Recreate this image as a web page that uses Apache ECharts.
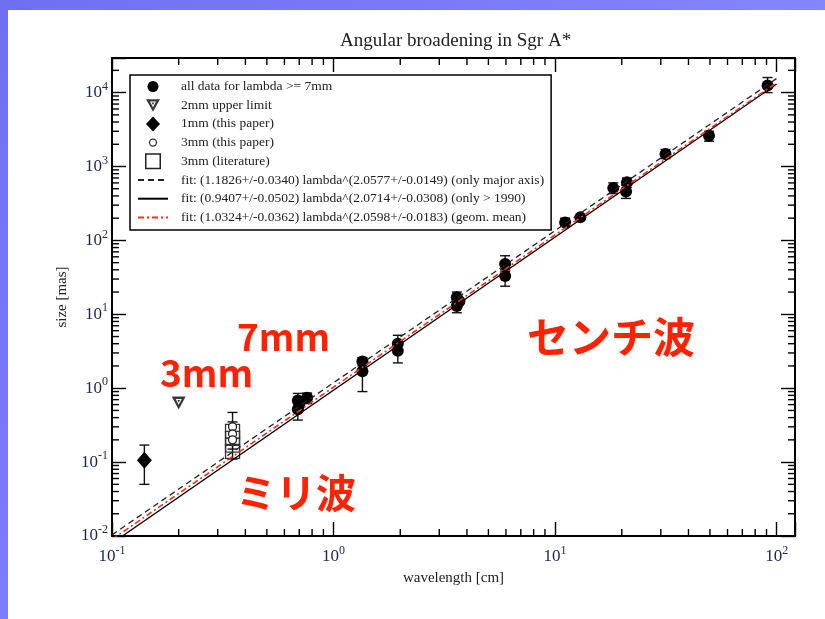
<!DOCTYPE html>
<html><head><meta charset="utf-8">
<script src="https://cdn.jsdelivr.net/npm/echarts@6/dist/echarts.min.js"></script>
<style>html,body{margin:0;padding:0;background:#fff}#c{width:825px;height:619px}</style>
</head><body><div id="c"></div>
<script>
// ---- data ----
const allX = [0.69, 0.69, 0.70, 0.76, 1.35, 1.35, 1.95, 1.95, 3.6, 3.6, 3.7, 5.95, 5.95, 11.1, 13.0, 18.3, 20.9, 21.1, 31.5, 49.5, 91];
const allY = [0.68, 0.52, 0.60, 0.74, 2.3, 1.7, 4.0, 3.2, 17, 13, 15, 48, 33, 175, 205, 510, 460, 610, 1480, 2600, 12500];
const upper2mmX = [0.2];
const upper2mmY = [0.63];
const mm1X = [0.14];
const mm1Y = [0.106];
const mm3ThisX = [0.35, 0.35, 0.35];
const mm3ThisY = [0.30, 0.24, 0.20];
const mm3LitX = [0.35, 0.35, 0.35, 0.35];
const mm3LitY = [0.26, 0.21, 0.17, 0.14];
const errX  = [0.14, 0.35, 0.35, 0.69, 0.76, 1.35, 1.35, 1.95, 1.95, 3.6, 3.6, 5.95, 5.95, 11.1, 18.3, 20.9, 21.1, 31.5, 49.5, 91];
const errLo = [0.05, 0.11, 0.15, 0.37, 0.62, 2.0, 0.9, 3.3, 2.2, 14.5, 10.5, 38, 24, 155, 430, 370, 520, 1280, 2200, 10000];
const errHi = [0.17, 0.47, 0.35, 0.85, 0.86, 2.6, 2.4, 5.2, 4.2, 20, 15.5, 62, 40, 200, 600, 560, 700, 1700, 3000, 16000];
const fitX = [0.1, 100];
const fitMajorY = [0.01036, 15530];
const fitRecentY = [0.00798, 13070];
const fitGeomY = [0.008995, 13600];
const xMinorTicks = [0.2,0.3,0.4,0.5,0.6,0.7,0.8,0.9, 2,3,4,5,6,7,8,9, 20,30,40,50,60,70,80,90];
const yMinorTicks = [0.02,0.03,0.04,0.05,0.06,0.07,0.08,0.09, 0.2,0.3,0.4,0.5,0.6,0.7,0.8,0.9,
  2,3,4,5,6,7,8,9, 20,30,40,50,60,70,80,90, 200,300,400,500,600,700,800,900,
  2000,3000,4000,5000,6000,7000,8000,9000, 20000];
const names = ['all data for lambda >= 7mm', '2mm upper limit', '1mm (this paper)', '3mm (this paper)', '3mm (literature)',
  'fit: (1.1826+/-0.0340) lambda^(2.0577+/-0.0149) (only major axis)',
  'fit: (0.9407+/-0.0502) lambda^(2.0714+/-0.0308) (only > 1990)',
  'fit: (1.0324+/-0.0362) lambda^(2.0598+/-0.0183) (geom. mean)'];

const SERIF = '"Liberation Serif", "DejaVu Serif", serif';
const JP = '"Noto Sans CJK JP", "Liberation Sans", sans-serif';
const zip = (a, b) => a.map((v, i) => [v, b[i]]);
const pow10 = v => { const e = Math.log10(v); const r = Math.round(e); return Math.abs(e - r) < 1e-6 ? r : null; };
const fmt = v => { const r = pow10(v); return r === null ? '' : '{b|10}{s|' + r + '}'; };
const rich = {
  b: { fontFamily: SERIF, fontSize: 17, color: '#1c2450', lineHeight: 24 },
  s: { fontFamily: SERIF, fontSize: 12, color: '#1c2450', lineHeight: 12, verticalAlign: 'top' }
};
const axisCommon = {
  type: 'log', logBase: 10,
  axisLine: { lineStyle: { color: '#000', width: 2 } },
  axisTick: { inside: true, length: 14, lineStyle: { color: '#000', width: 1.4 } },
  splitLine: { show: false }, minorTick: { show: false }
};
const tickStyle = { stroke: '#000', lineWidth: 1.4 };
// plot symbol for the 2mm upper limit (inverted triangle, lighter inside, small dark core)
const triPath = 'path://M0 0 L14 0 L7 13 Z M4 2.4 L7 8.2 L10 2.4 Z M5.6 3.4 L8.4 3.4 L7 6 Z';
// legend icons, drawn in a 17x17 box (the leading moves fix the box size)
const BOX = 'M0 0 M17 17 ';
const legIcons = {
  circle: 'path://' + BOX + 'M3 8.5 A5.5 5.5 0 1 1 14 8.5 A5.5 5.5 0 1 1 3 8.5 Z',
  tri: 'path://' + BOX + 'M1.5 2.5 L15.5 2.5 L8.5 15 Z M5.5 4.8 L8.5 10.6 L11.5 4.8 Z M7.1 5.8 L9.9 5.8 L8.5 8.4 Z',
  diamond: 'path://' + BOX + 'M8.5 1 L15.5 8.5 L8.5 16 L1.5 8.5 Z',
  ring: 'path://' + BOX + 'M4.3 8.5 A4.2 4.2 0 1 1 12.7 8.5 A4.2 4.2 0 1 1 4.3 8.5 Z M5.6 8.5 A2.9 2.9 0 1 0 11.4 8.5 A2.9 2.9 0 1 0 5.6 8.5 Z',
  square: 'path://' + BOX + 'M0.5 0.5 L16.5 0.5 L16.5 16.5 L0.5 16.5 Z M2 2 L2 15 L15 15 L15 2 Z'
};
const hideSym = { opacity: 0 };

const chart = echarts.init(document.getElementById('c'), null, { renderer: 'canvas' });
chart.setOption({
  animation: false,
  backgroundColor: '#fff',
  title: { text: 'Angular broadening in Sgr A*', left: 335, top: 27,
    textStyle: { fontFamily: SERIF, fontSize: 19, fontWeight: 'normal', color: '#222' } },
  grid: { left: 112, right: 30, top: 58, bottom: 83 },
  xAxis: [
    Object.assign({}, axisCommon, { position: 'bottom', min: 0.1, max: 121,
      axisLabel: { formatter: fmt, rich: rich, margin: 9 },
      name: 'wavelength [cm]', nameLocation: 'middle', nameGap: 34,
      nameTextStyle: { fontFamily: SERIF, fontSize: 15, color: '#222' } }),
    Object.assign({}, axisCommon, { position: 'top', min: 0.1, max: 121, axisLabel: { show: false } })
  ],
  yAxis: [
    Object.assign({}, axisCommon, { position: 'left', min: 0.01, max: 29400,
      axisLabel: { formatter: fmt, rich: rich, margin: 4 },
      name: 'size [mas]', nameLocation: 'middle', nameGap: 42,
      nameTextStyle: { fontFamily: SERIF, fontSize: 15, color: '#222' } }),
    Object.assign({}, axisCommon, { position: 'right', min: 0.01, max: 29400, axisLabel: { show: false } })
  ],
  legend: {
    data: [
      { name: names[0], icon: legIcons.circle, itemStyle: { color: '#000', borderWidth: 0 } },
      { name: names[1], icon: legIcons.tri, itemStyle: { color: '#3a3a3a', borderWidth: 0 } },
      { name: names[2], icon: legIcons.diamond, itemStyle: { color: '#000', borderWidth: 0 } },
      { name: names[3], icon: legIcons.ring, itemStyle: { color: '#333', borderWidth: 0 } },
      { name: names[4], icon: legIcons.square, itemStyle: { color: '#222', borderWidth: 0 } },
      { name: names[5], itemStyle: hideSym },
      { name: names[6], itemStyle: hideSym },
      { name: names[7], itemStyle: hideSym }
    ],
    orient: 'vertical', left: 130, top: 75,
    padding: [3, 7, 4, 7], itemGap: 1.7, itemWidth: 30, itemHeight: 17,
    backgroundColor: '#fff', borderColor: '#000', borderWidth: 1.5, borderRadius: 0,
    textStyle: { fontFamily: SERIF, fontSize: 13.5, color: '#222', lineHeight: 17, padding: [0, 0, 0, 8] },
    selectedMode: false
  },
  graphic: [
    { type: 'rect', shape: { x: 0, y: 0, width: 825, height: 10 }, style: { fill: new echarts.graphic.LinearGradient(0, 0, 1, 0, [{ offset: 0, color: '#6f6ff2' }, { offset: 1, color: '#8585ff' }]) }, z: 100 },
    { type: 'rect', shape: { x: 0, y: 0, width: 8, height: 619 }, style: { fill: new echarts.graphic.LinearGradient(0, 0, 0, 1, [{ offset: 0, color: '#6f6ff2' }, { offset: 1, color: '#7d7dfa' }]) }, z: 100 },
    { type: 'text', left: 160, top: 354, z: 100, style: { text: '3mm', fontFamily: JP, fontWeight: 'bold', fontSize: 37, fill: '#ff2200' } },
    { type: 'text', left: 237, top: 318, z: 100, style: { text: '7mm', fontFamily: JP, fontWeight: 'bold', fontSize: 37, fill: '#ff2200' } },
    { type: 'text', left: 527, top: 316, z: 100, style: { text: 'センチ波', fontFamily: JP, fontWeight: 'bold', fontSize: 42, fill: '#ff2200' } },
    { type: 'text', left: 236, top: 473, z: 100, style: { text: 'ミリ波', fontFamily: JP, fontWeight: 'bold', fontSize: 40, fill: '#ff2200' } }
  ],
  series: [
    { type: 'custom', name: 'xminor', silent: true, z: 1,
      data: xMinorTicks.map(v => [v, 1]),
      renderItem: (params, api) => {
        const cs = params.coordSys; const p = api.coord([api.value(0), 1]);
        return { type: 'group', children: [
          { type: 'line', shape: { x1: p[0], y1: cs.y + cs.height, x2: p[0], y2: cs.y + cs.height - 7 }, style: tickStyle },
          { type: 'line', shape: { x1: p[0], y1: cs.y, x2: p[0], y2: cs.y + 7 }, style: tickStyle } ] };
      } },
    { type: 'custom', name: 'yminor', silent: true, z: 1,
      data: yMinorTicks.map(v => [1, v]),
      renderItem: (params, api) => {
        const cs = params.coordSys; const p = api.coord([1, api.value(1)]);
        return { type: 'group', children: [
          { type: 'line', shape: { x1: cs.x, y1: p[1], x2: cs.x + 7, y2: p[1] }, style: tickStyle },
          { type: 'line', shape: { x1: cs.x + cs.width, y1: p[1], x2: cs.x + cs.width - 7, y2: p[1] }, style: tickStyle } ] };
      } },
    { type: 'custom', name: 'errors', silent: true, z: 3,
      data: errX.map((x, i) => [x, errLo[i], errHi[i]]),
      encode: { x: 0, y: [1, 2] },
      renderItem: (params, api) => {
        const x = api.value(0);
        const a = api.coord([x, api.value(1)]), b = api.coord([x, api.value(2)]);
        const w = 5, st = { stroke: '#111', lineWidth: 1.4 };
        return { type: 'group', children: [
          { type: 'line', shape: { x1: a[0], y1: a[1], x2: b[0], y2: b[1] }, style: st },
          { type: 'line', shape: { x1: a[0] - w, y1: a[1], x2: a[0] + w, y2: a[1] }, style: st },
          { type: 'line', shape: { x1: b[0] - w, y1: b[1], x2: b[0] + w, y2: b[1] }, style: st } ] };
      } },
    { type: 'scatter', name: names[0], data: zip(allX, allY), symbol: 'circle', symbolSize: 12,
      itemStyle: { color: '#000', opacity: 1 }, z: 4 },
    { type: 'scatter', name: names[1], data: zip(upper2mmX, upper2mmY), symbol: triPath, symbolSize: [14, 13],
      itemStyle: { color: '#3a3a3a', opacity: 1 }, z: 4 },
    { type: 'scatter', name: names[2], data: zip(mm1X, mm1Y), symbol: 'diamond', symbolSize: [15, 17],
      itemStyle: { color: '#000', opacity: 1 }, z: 4 },
    { type: 'scatter', name: names[4], data: zip(mm3LitX, mm3LitY), symbol: 'rect', symbolSize: 14,
      itemStyle: { color: 'rgba(255,255,255,0)', borderColor: '#333', borderWidth: 1.3, opacity: 1 }, z: 4 },
    { type: 'scatter', name: names[3], data: zip(mm3ThisX, mm3ThisY), symbol: 'circle', symbolSize: 8,
      itemStyle: { color: '#fff', borderColor: '#222', borderWidth: 1.3, opacity: 1 }, z: 5 },
    { type: 'line', name: names[5], data: zip(fitX, fitMajorY), symbol: 'none', z: 6,
      lineStyle: { color: '#222', width: 1.3, type: [6, 4] }, itemStyle: { color: '#222' } },
    { type: 'line', name: names[6], data: zip(fitX, fitRecentY), symbol: 'none', z: 6,
      lineStyle: { color: '#000', width: 1.3, type: 'solid' }, itemStyle: { color: '#000' } },
    { type: 'line', name: names[7], data: zip(fitX, fitGeomY), symbol: 'none', z: 7,
      lineStyle: { color: '#f0301a', width: 1.6, type: [6, 3, 2, 3] }, itemStyle: { color: '#f0301a' } }
  ]
});
</script></body></html>
